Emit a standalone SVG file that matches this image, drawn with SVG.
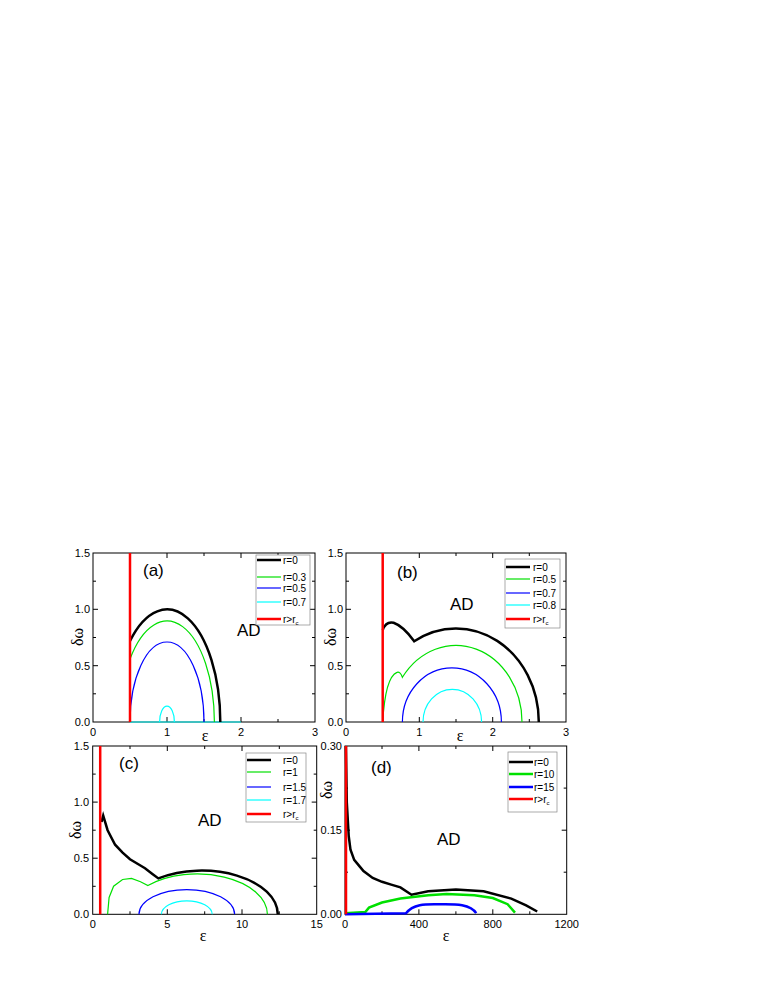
<svg xmlns="http://www.w3.org/2000/svg" width="763" height="987" viewBox="0 0 763 987">
<style>
.ax{fill:none;stroke:#000;stroke-width:1}
.tk{font-family:"Liberation Sans",Arial,sans-serif;font-size:11px;fill:#000}
.lg{font-family:"Liberation Sans",Arial,sans-serif;font-size:10px;fill:#000}
.lab{font-family:"Liberation Serif",serif;font-size:16px;fill:#000}
.pl{font-family:"Liberation Sans",Arial,sans-serif;font-size:17px;fill:#000}
.k{fill:none;stroke:#000;stroke-width:2.5}
.g{fill:none;stroke:#00e000;stroke-width:1.2}
.b{fill:none;stroke:#0000ff;stroke-width:1.2}
.c{fill:none;stroke:#00ffff;stroke-width:1.2}
.r{fill:none;stroke:#ff0000;stroke-width:2.5}
.gt{fill:none;stroke:#00e000;stroke-width:2.5}
.bt{fill:none;stroke:#0000ff;stroke-width:2.5}
</style>
<rect width="763" height="987" fill="#fff"/>
<!-- Panel a -->
<g id="panel-a">
<rect class="ax" x="93" y="553" width="222" height="169"/>
<path class="ax" d="M167,722v-5M241,722v-5M130,722v-3M204,722v-3M278,722v-3M167,553v5M241,553v5M130,553v3M204,553v3M278,553v3M93,665.7h5M93,609.3h5M93,693.8h3M93,637.5h3M93,581.2h3M315,665.7h-5M315,609.3h-5M315,693.8h-3M315,637.5h-3M315,581.2h-3"/>
<g class="tk" text-anchor="middle"><text x="93" y="736">0</text><text x="167" y="736">1</text><text x="241" y="736">2</text><text x="315" y="736">3</text></g>
<g class="tk" text-anchor="end"><text x="90" y="726">0.0</text><text x="90" y="669.5">0.5</text><text x="90" y="613">1.0</text><text x="90" y="557">1.5</text></g>
<text class="lab" x="205" y="741" text-anchor="middle">ε</text>
<text class="lab" transform="translate(83,637) rotate(-90)" text-anchor="middle">δω</text>
<text class="pl" x="143" y="576">(a)</text>
<text class="pl" x="237" y="636">AD</text>
<path class="c" d="M130,722H241"/>
<path class="k" d="M130,641A53.3,112.7 0 0 1 220.3,722"/>
<path class="g" d="M130,659A47.4,101.4 0 0 1 214.4,722"/>
<path class="b" d="M130,722A37,80 0 0 1 204,722"/>
<path class="c" d="M159.6,722A7.4,15.8 0 0 1 174.4,722"/>
<path class="r" d="M130,553V722"/>
<rect x="256" y="555" width="54" height="70" fill="#fff" stroke="#888" stroke-width="0.7"/>
<path class="k" d="M257,560h24"/><path class="g" d="M257,577h24"/><path class="b" d="M257,588h24"/><path class="c" d="M257,602h24"/><path class="r" d="M257,619h24"/>
<g class="lg"><text x="283" y="563.5">r=0</text><text x="283" y="580.5">r=0.3</text><text x="283" y="591.5">r=0.5</text><text x="283" y="605.5">r=0.7</text><text x="283" y="622.5">r&gt;r<tspan font-size="6" dy="2">c</tspan></text></g>
</g>
<!-- Panel b -->
<g id="panel-b">
<rect class="ax" x="346" y="553" width="220" height="169"/>
<path class="ax" d="M419.3,722v-5M492.7,722v-5M382.7,722v-3M456,722v-3M529.3,722v-3M419.3,553v5M492.7,553v5M382.7,553v3M456,553v3M529.3,553v3M346,665.7h5M346,609.3h5M346,693.8h3M346,637.5h3M346,581.2h3M566,665.7h-5M566,609.3h-5M566,693.8h-3M566,637.5h-3M566,581.2h-3"/>
<g class="tk" text-anchor="middle"><text x="346" y="736">0</text><text x="419.3" y="736">1</text><text x="492.7" y="736">2</text><text x="566" y="736">3</text></g>
<g class="tk" text-anchor="end"><text x="343" y="726">0.0</text><text x="343" y="669.5">0.5</text><text x="343" y="613">1.0</text><text x="343" y="557">1.5</text></g>
<text class="lab" x="460" y="741" text-anchor="middle">ε</text>
<text class="lab" transform="translate(336,637) rotate(-90)" text-anchor="middle">δω</text>
<text class="pl" x="397" y="578">(b)</text>
<text class="pl" x="450" y="610">AD</text>
<path class="k" d="M382.7,630Q386,621 393.6,622.8Q403,626 414.2,641.2A82.8,93.5 0 0 1 538.8,722"/>
<path class="g" d="M382.7,722C384,700 388,676 397,672.4Q400,671 402.4,677.3A66,76.6 0 0 1 522,722"/>
<path class="b" d="M402.4,722A49.5,54.1 0 0 1 501.4,722"/>
<path class="c" d="M423,722A29.3,32.7 0 0 1 481.6,722"/>
<path class="r" d="M382.7,553V722"/>
<rect x="505" y="559" width="55" height="69" fill="#fff" stroke="#888" stroke-width="0.7"/>
<path class="k" d="M506,567h24"/><path class="g" d="M506,579h24"/><path class="b" d="M506,593h24"/><path class="c" d="M506,605h24"/><path class="r" d="M506,619h24"/>
<g class="lg"><text x="533" y="570.5">r=0</text><text x="533" y="582.5">r=0.5</text><text x="533" y="596.5">r=0.7</text><text x="533" y="608.5">r=0.8</text><text x="533" y="622.5">r&gt;r<tspan font-size="6" dy="2">c</tspan></text></g>
</g>
<!-- Panel c -->
<g id="panel-c">
<rect class="ax" x="92.7" y="746" width="224" height="168.3"/>
<path class="ax" d="M167.3,914.3v-5M242,914.3v-5M130,914.3v-3M204.7,914.3v-3M279.3,914.3v-3M167.3,746v5M242,746v5M130,746v3M204.7,746v3M279.3,746v3M92.7,858.2h5M92.7,802.1h5M92.7,886.3h3M92.7,830.2h3M92.7,774.1h3M316.7,858.2h-5M316.7,802.1h-5M316.7,886.3h-3M316.7,830.2h-3M316.7,774.1h-3"/>
<g class="tk" text-anchor="middle"><text x="92.7" y="928">0</text><text x="167.3" y="928">5</text><text x="242" y="928">10</text><text x="316.7" y="928">15</text></g>
<g class="tk" text-anchor="end"><text x="89" y="918">0.0</text><text x="89" y="862">0.5</text><text x="89" y="806">1.0</text><text x="89" y="750">1.5</text></g>
<text class="lab" x="203" y="941" text-anchor="middle">ε</text>
<text class="lab" transform="translate(81,830) rotate(-90)" text-anchor="middle">δω</text>
<text class="pl" x="119" y="769">(c)</text>
<text class="pl" x="198" y="826">AD</text>
<path class="k" d="M101.5,822L103.2,815.6L107.6,830.2L115.1,844.7L122.6,852.6L130,859.3L137.5,863.8L145,868.3L152.4,873.9L158.4,878.4A76.1,43.8 0 0 1 277.8,914.3"/>
<path class="g" d="M107.6,914.3L109.1,897.5L113.6,886.2L122.6,879.5L131.5,878.4L140.5,881.8L147.9,885.6A70.2,40.4 0 0 1 267.4,914.3"/>
<path class="b" d="M139,914.3A47.8,24.7 0 0 1 234.6,914.3"/>
<path class="c" d="M161.4,914.3A25.4,13.5 0 0 1 212.2,914.3"/>
<path class="r" d="M100.2,746V914.3"/>
<rect x="246" y="753" width="60" height="69" fill="#fff" stroke="#888" stroke-width="0.7"/>
<path class="k" d="M247,760h24"/><path class="g" d="M247,772h24"/><path class="b" d="M247,787h24"/><path class="c" d="M247,800h24"/><path class="r" d="M247,814h24"/>
<g class="lg"><text x="283" y="763.5">r=0</text><text x="283" y="775.5">r=1</text><text x="283" y="790.5">r=1.5</text><text x="283" y="803.5">r=1.7</text><text x="283" y="817.5">r&gt;r<tspan font-size="6" dy="2">c</tspan></text></g>
</g>
<!-- Panel d -->
<g id="panel-d">
<rect class="ax" x="345" y="746" width="221.7" height="168.3"/>
<path class="ax" d="M418.9,914.3v-5M492.8,914.3v-5M382,914.3v-3M455.9,914.3v-3M529.8,914.3v-3M418.9,746v5M492.8,746v5M382,746v3M455.9,746v3M529.8,746v3M345,830.2h5M345,872.2h3M345,788.1h3M566.7,830.2h-5M566.7,872.2h-3M566.7,788.1h-3"/>
<g class="tk" text-anchor="middle"><text x="345" y="928">0</text><text x="418.9" y="928">400</text><text x="492.8" y="928">800</text><text x="566.7" y="928">1200</text></g>
<g class="tk" text-anchor="end"><text x="342" y="918">0.00</text><text x="342" y="834">0.15</text><text x="342" y="750">0.30</text></g>
<text class="lab" x="446" y="941" text-anchor="middle">ε</text>
<text class="lab" transform="translate(332,790) rotate(-90)" text-anchor="middle">δω</text>
<text class="pl" x="371" y="773">(d)</text>
<text class="pl" x="437" y="845">AD</text>
<path class="k" stroke-width="2" d="M345.9,746.1L346.8,802.2L348.7,835.8L350.5,849.8L354.2,859.9L359.8,866.6L363.5,871.1L372.7,877.9L382,881.8L391.2,884.6L400.4,887.4L411.5,894.7L428.2,891.3L455.9,889.6L483.6,891.3L511.3,898.6L526.1,905.3L537.2,911.5"/>
<path class="gt" d="M345,913.2L365.3,912.1L369,907.6L382,902.5L400.4,898.6L428.2,895.2L446.6,894.1L474.4,895.2L492.8,898L507.6,904.2L515,912.6"/>
<path class="bt" d="M345,914.3L406,913.2C414,903 428,904.2 439.2,904.2C452,904.2 470,903 476.2,913.2"/>
<path class="r" stroke-width="2" d="M346,746V914.3"/>
<rect x="508" y="752" width="49" height="60" fill="#fff" stroke="#888" stroke-width="0.7"/>
<path class="k" d="M509,762h24"/><path class="gt" d="M509,774h24"/><path class="bt" d="M509,787h24"/><path class="r" d="M509,799h24"/>
<g class="lg"><text x="534" y="765.5">r=0</text><text x="534" y="777.5">r=10</text><text x="534" y="790.5">r=15</text><text x="534" y="802.5">r&gt;r<tspan font-size="6" dy="2">c</tspan></text></g>
</g>
</svg>
